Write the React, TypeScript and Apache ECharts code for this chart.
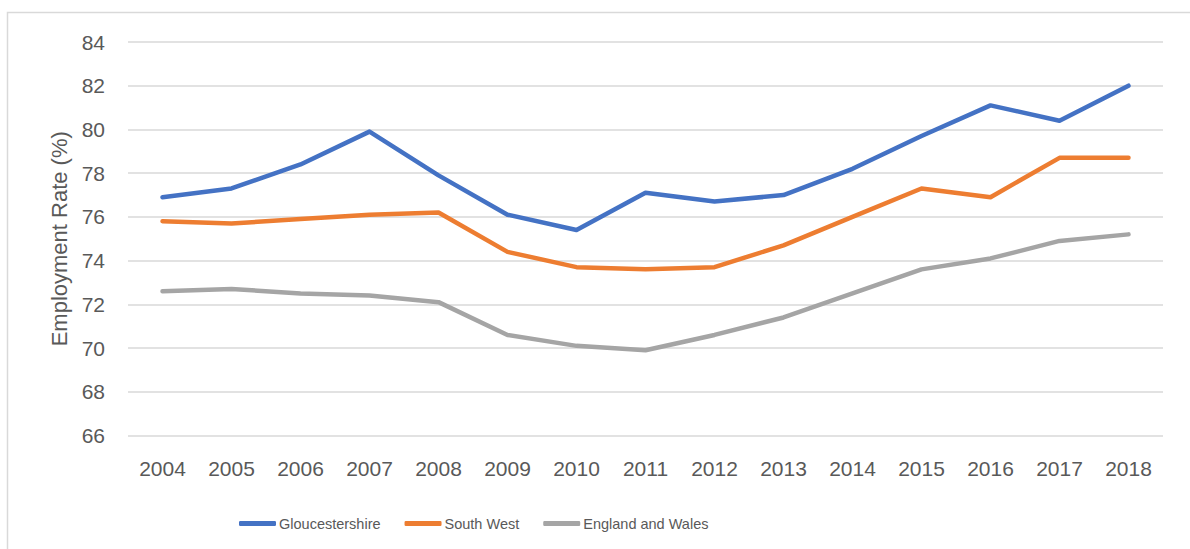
import React, { useEffect, useRef } from "react";
import * as echarts from "echarts";

const years = ["2004","2005","2006","2007","2008","2009","2010","2011","2012","2013","2014","2015","2016","2017","2018"];
const gloucestershire = [76.9, 77.3, 78.4, 79.9, 77.9, 76.1, 75.4, 77.1, 76.7, 77.0, 78.2, 79.7, 81.1, 80.4, 82.0];
const southWest = [75.8, 75.7, 75.9, 76.1, 76.2, 74.4, 73.7, 73.6, 73.7, 74.7, 76.0, 77.3, 76.9, 78.7, 78.7];
const englandWales = [72.6, 72.7, 72.5, 72.4, 72.1, 70.6, 70.1, 69.9, 70.6, 71.4, 72.5, 73.6, 74.1, 74.9, 75.2];

const seriesNames = ["Gloucestershire", "South West", "England and Wales"];
const seriesColors = ["#4472C4", "#ED7D31", "#A5A5A5"];
const seriesData = [gloucestershire, southWest, englandWales];

const FONT = "'Liberation Sans', Arial, sans-serif";
const TEXT = "#595959";

export default function App() {
  const ref = useRef<HTMLDivElement>(null);
  useEffect(() => {
    document.body.style.margin = "0";
    if (!ref.current) return;
    const chart = echarts.init(ref.current, undefined, { renderer: "svg" });
    chart.setOption({
      animation: false,
      backgroundColor: "#ffffff",
      graphic: [
        {
          type: "rect",
          shape: { x: 7.5, y: 12.5, width: 1300, height: 700 },
          style: { fill: "none", stroke: "#D9D9D9", lineWidth: 1.5 },
          silent: true,
        },
      ],
      grid: { left: 128, right: 27, top: 42, bottom: 113.5 },
      legend: {
        left: 234,
        top: 511,
        icon: "roundRect",
        itemWidth: 37,
        itemHeight: 5,
        itemGap: 24,
        textStyle: { color: TEXT, fontSize: 14.5, fontFamily: FONT, padding: [0, 0, 0, -2] },
        data: seriesNames,
      },
      xAxis: {
        type: "category",
        data: years,
        boundaryGap: true,
        axisLine: { show: false },
        axisTick: { show: false },
        axisLabel: { color: TEXT, fontSize: 21, fontFamily: FONT, margin: 22 },
      },
      yAxis: {
        type: "value",
        min: 66,
        max: 84,
        interval: 2,
        name: "Employment Rate (%)",
        nameLocation: "middle",
        nameGap: 58,
        nameTextStyle: { color: TEXT, fontSize: 22, fontFamily: FONT },
        axisLine: { show: false },
        axisTick: { show: false },
        axisLabel: { color: TEXT, fontSize: 21, fontFamily: FONT, margin: 23 },
        splitLine: { lineStyle: { color: "#D9D9D9", width: 1.5 } },
      },
      series: seriesNames.map((name, i) => ({
        name,
        type: "line",
        data: seriesData[i],
        symbol: "none",
        color: seriesColors[i],
        lineStyle: { color: seriesColors[i], width: 4.5, cap: "round", join: "round" },
        itemStyle: { color: seriesColors[i] },
      })),
    });
    return () => chart.dispose();
  }, []);
  return <div ref={ref} style={{ width: 1190, height: 549 }} />;
}
